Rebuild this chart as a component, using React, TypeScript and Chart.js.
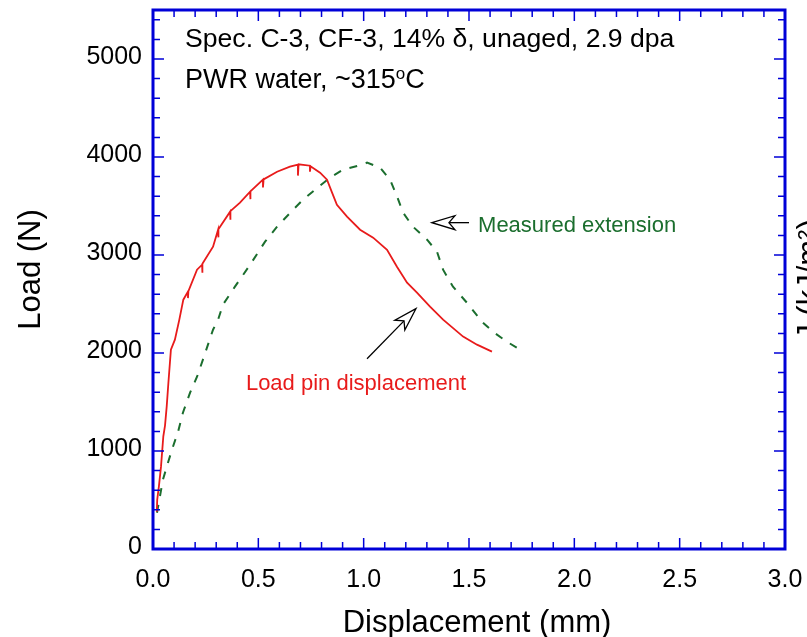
import React, { useEffect, useRef } from 'react';
import { Chart, registerables } from 'chart.js';
Chart.register(...registerables);

const FONT = "'Liberation Sans', Arial, Helvetica, sans-serif";
const BLUE = '#0000d8';
const RED = '#e81b1b';
const GREEN = '#1b6e2e';

// axis ranges and ticks
const xMin = 0;
const xMax = 3;
const yMin = 0;
const yMax = 5500;
const xTickValues = [0, 0.5, 1.0, 1.5, 2.0, 2.5, 3.0];
const yTickValues = [0, 1000, 2000, 3000, 4000, 5000];
const xMinorStep = 0.1;
const yMinorStep = 200;

const xTitle = 'Displacement (mm)';
const yTitle = 'Load (N)';
const y2Title = 'J (kJ/m²)';

// Load pin displacement (mm) / load (N)
const loadPinDisp = [
  0.018, 0.020, 0.028, 0.038, 0.049, 0.057, 0.065, 0.073, 0.085, 0.104,
  0.125, 0.144, 0.166, 0.166, 0.168, 0.209, 0.233, 0.233, 0.236, 0.285,
  0.309, 0.309, 0.312, 0.366, 0.366, 0.369, 0.413, 0.461, 0.461, 0.464,
  0.522, 0.522, 0.525, 0.589, 0.650, 0.688, 0.688, 0.691, 0.745, 0.745,
  0.748, 0.793, 0.826, 0.850, 0.873, 0.921, 0.983, 1.045, 1.111, 1.158,
  1.206, 1.253, 1.315, 1.377, 1.472, 1.538, 1.609,
];
const loadPinLoad = [
  381, 503, 640, 840, 1150, 1260, 1452, 1694, 2034, 2136,
  2340, 2544, 2626, 2560, 2630, 2850, 2901, 2820, 2910, 3085,
  3258, 3180, 3262, 3442, 3360, 3448, 3534, 3646, 3570, 3650,
  3769, 3690, 3772, 3850, 3901, 3922, 3810, 3925, 3911, 3850,
  3905, 3840, 3769, 3636, 3513, 3391, 3258, 3177, 3054, 2881,
  2718, 2616, 2473, 2340, 2167, 2085, 2014,
];

// Measured extension (mm) / load (N)
const extDisp = [
  0.019, 0.047, 0.071, 0.090, 0.119, 0.142, 0.176, 0.209, 0.237, 0.261,
  0.285, 0.309, 0.332, 0.389, 0.461, 0.532, 0.589, 0.665, 0.712, 0.769,
  0.840, 0.902, 0.992, 1.016, 1.078, 1.125, 1.158, 1.187, 1.234, 1.301,
  1.348, 1.377, 1.424, 1.490, 1.566, 1.614, 1.680, 1.742,
];
const extLoad = [
  370, 706, 880, 1013, 1197, 1391, 1595, 1758, 1932, 2085,
  2238, 2340, 2493, 2677, 2901, 3136, 3289, 3462, 3564, 3666,
  3789, 3870, 3922, 3942, 3891, 3769, 3600, 3432, 3289, 3156,
  3034, 2850, 2677, 2513, 2309, 2217, 2115, 2034,
];

// annotations (anchored in data units)
const noteSpec = { text: 'Spec. C-3, CF-3, 14% δ, unaged, 2.9 dpa', x: 0.152, y: 5125 };
const notePwr = { text: 'PWR water, ~315', sup: 'o', after: 'C', x: 0.152, y: 4707 };
const noteExt = { text: 'Measured extension', x: 1.543, y: 3238 };
const noteLoad = { text: 'Load pin displacement', x: 0.441, y: 1626 };
const arrowExt = { fromX: 1.5, fromY: 3330, toX: 1.324, toY: 3330 };
const arrowLoad = { fromX: 1.016, fromY: 1942, toX: 1.248, toY: 2452 };

function drawArrow(ctx: CanvasRenderingContext2D, x0: number, y0: number, x1: number, y1: number) {
  const dx = x1 - x0;
  const dy = y1 - y0;
  const L = Math.hypot(dx, dy);
  const ux = dx / L;
  const uy = dy / L;
  const px = -uy;
  const py = ux;
  const head = 23;
  const half = 7;
  const notch = 17;
  const bx = x1 - ux * head;
  const by = y1 - uy * head;
  const nx = x1 - ux * notch;
  const ny = y1 - uy * notch;
  ctx.beginPath();
  ctx.moveTo(x0, y0);
  ctx.lineTo(nx, ny);
  ctx.stroke();
  ctx.beginPath();
  ctx.moveTo(x1, y1);
  ctx.lineTo(bx + px * half, by + py * half);
  ctx.lineTo(nx, ny);
  ctx.lineTo(bx - px * half, by - py * half);
  ctx.closePath();
  ctx.fillStyle = '#ffffff';
  ctx.fill();
  ctx.stroke();
}

const decorPlugin = {
  id: 'decor',
  afterDraw(chart: any) {
    const { ctx, chartArea: a } = chart;
    const xs = chart.scales.x;
    const ys = chart.scales.y;
    ctx.save();
    // inward ticks on all four sides
    ctx.strokeStyle = BLUE;
    ctx.lineWidth = 1.5;
    ctx.beginPath();
    const nx = Math.round((xMax - xMin) / xMinorStep);
    for (let i = 0; i <= nx; i++) {
      const v = xMin + i * xMinorStep;
      const px = xs.getPixelForValue(v);
      const major = xTickValues.some((t) => Math.abs(t - v) < 1e-6);
      const len = major ? 11 : 7;
      ctx.moveTo(px, a.bottom);
      ctx.lineTo(px, a.bottom - len);
      ctx.moveTo(px, a.top);
      ctx.lineTo(px, a.top + len);
    }
    const ny = Math.floor((yMax - yMin) / yMinorStep);
    for (let i = 0; i <= ny; i++) {
      const v = yMin + i * yMinorStep;
      const py = ys.getPixelForValue(v);
      const major = yTickValues.some((t) => Math.abs(t - v) < 1e-6);
      const len = major ? 11 : 7;
      ctx.moveTo(a.left, py);
      ctx.lineTo(a.left + len, py);
      ctx.moveTo(a.right, py);
      ctx.lineTo(a.right - len, py);
    }
    ctx.stroke();
    // frame
    ctx.lineWidth = 3;
    ctx.strokeRect(a.left, a.top, a.right - a.left, a.bottom - a.top);

    // axis titles
    ctx.fillStyle = '#000';
    ctx.font = `31px ${FONT}`;
    ctx.textAlign = 'center';
    ctx.textBaseline = 'alphabetic';
    ctx.fillText(xTitle, (a.left + a.right) / 2 + 8, 632);
    ctx.save();
    ctx.translate(40, (a.top + a.bottom) / 2 - 10);
    ctx.rotate(-Math.PI / 2);
    ctx.fillText(yTitle, 0, 0);
    ctx.restore();
    ctx.save();
    ctx.translate(a.right + 34, (a.top + a.bottom) / 2);
    ctx.rotate(-Math.PI / 2);
    ctx.fillText(y2Title, 0, 0);
    ctx.restore();

    // annotations
    ctx.textAlign = 'left';
    ctx.font = `26.6px ${FONT}`;
    ctx.fillText(noteSpec.text, xs.getPixelForValue(noteSpec.x), ys.getPixelForValue(noteSpec.y));
    ctx.font = `27px ${FONT}`;
    const px0 = xs.getPixelForValue(notePwr.x);
    const py0 = ys.getPixelForValue(notePwr.y);
    ctx.fillText(notePwr.text, px0, py0);
    const w = ctx.measureText(notePwr.text).width;
    ctx.font = `17px ${FONT}`;
    ctx.fillText(notePwr.sup, px0 + w, py0 - 9);
    const ws = ctx.measureText(notePwr.sup).width;
    ctx.font = `27px ${FONT}`;
    ctx.fillText(notePwr.after, px0 + w + ws, py0);

    ctx.font = `22px ${FONT}`;
    ctx.fillStyle = GREEN;
    ctx.fillText(noteExt.text, xs.getPixelForValue(noteExt.x), ys.getPixelForValue(noteExt.y));
    ctx.fillStyle = RED;
    ctx.fillText(noteLoad.text, xs.getPixelForValue(noteLoad.x), ys.getPixelForValue(noteLoad.y));

    ctx.strokeStyle = '#000';
    ctx.lineWidth = 1.3;
    for (const ar of [arrowExt, arrowLoad]) {
      drawArrow(
        ctx,
        xs.getPixelForValue(ar.fromX),
        ys.getPixelForValue(ar.fromY),
        xs.getPixelForValue(ar.toX),
        ys.getPixelForValue(ar.toY),
      );
    }
    ctx.restore();
  },
};

export default function App() {
  const ref = useRef<HTMLCanvasElement>(null);
  useEffect(() => {
    document.body.style.margin = '0';
    const chart = new Chart(ref.current as HTMLCanvasElement, {
      type: 'line',
      data: {
        datasets: [
          {
            label: 'Load pin displacement',
            data: loadPinDisp.map((v, i) => ({ x: v, y: loadPinLoad[i] })),
            borderColor: RED,
            borderWidth: 1.8,
            pointRadius: 0,
            tension: 0,
            fill: false,
          },
          {
            label: 'Measured extension',
            data: extDisp.map((v, i) => ({ x: v, y: extLoad[i] })),
            borderColor: GREEN,
            borderWidth: 2,
            borderDash: [8, 9],
            pointRadius: 0,
            tension: 0,
            fill: false,
          },
        ],
      },
      options: {
        responsive: false,
        animation: false,
        events: [],
        layout: { padding: { top: 10, right: 22, left: 0, bottom: 0 } },
        plugins: { legend: { display: false }, tooltip: { enabled: false } },
        scales: {
          x: {
            type: 'linear',
            min: xMin,
            max: xMax,
            grid: { display: false, drawTicks: false, tickLength: 0 },
            border: { display: false },
            afterBuildTicks: (s: any) => {
              s.ticks = xTickValues.map((v) => ({ value: v }));
            },
            ticks: {
              autoSkip: false,
              maxRotation: 0,
              padding: 16,
              color: '#000',
              font: { family: FONT, size: 25 },
              callback: (v: any) => Number(v).toFixed(1),
            },
            afterFit: (s: any) => {
              s.height = 88;
              s.paddingLeft = 0;
              s.paddingRight = 0;
            },
          },
          y: {
            type: 'linear',
            min: yMin,
            max: yMax,
            grid: { display: false, drawTicks: false, tickLength: 0 },
            border: { display: false },
            afterBuildTicks: (s: any) => {
              s.ticks = yTickValues.map((v) => ({ value: v }));
            },
            ticks: {
              autoSkip: false,
              padding: 11,
              labelOffset: -2,
              color: '#000',
              font: { family: FONT, size: 25 },
              callback: (v: any) => String(v),
            },
            afterFit: (s: any) => {
              s.width = 153;
              s.paddingTop = 0;
              s.paddingBottom = 0;
            },
          },
        },
      },
      plugins: [decorPlugin],
    });
    return () => chart.destroy();
  }, []);
  return (
    <div style={{ width: 807, height: 637 }}>
      <canvas ref={ref} width={807} height={637} style={{ display: 'block' }} />
    </div>
  );
}
